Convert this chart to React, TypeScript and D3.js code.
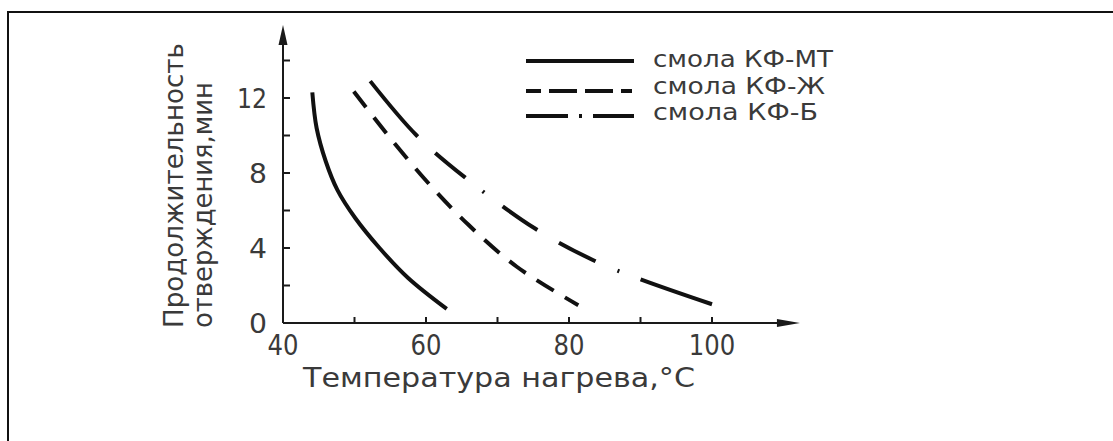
import React from 'react';
import {scaleLinear, line, curveCatmullRom} from 'd3';

// values
const tempMT = [44.1, 44.7, 46.0, 47.6, 50.1, 53.5, 57.5, 62.9];
const timeMT = [12.3, 10.4, 8.6, 7.1, 5.6, 4.0, 2.4, 0.75];

const tempZh = [49.9, 54.4, 60.0, 65.9, 72.7, 81.3];
const timeZh = [12.35, 10.15, 7.6, 5.25, 3.0, 0.95];

const tempB = [52.2, 58.7, 65.5, 75.2, 83.4, 89.5, 100.0];
const timeB = [12.9, 10.0, 7.75, 5.05, 3.35, 2.4, 1.0];

const seriesNames = ['смола КФ-МТ', 'смола КФ-Ж', 'смола КФ-Б'];

const xTicks = [40, 50, 60, 70, 80, 90, 100];
const xTickLabels = ['40', '60', '80', '100'];
const yTicks = [0, 2, 4, 6, 8, 10, 12, 14];
const yTickLabels = ['0', '4', '8', '12'];

const xAxisEnd = 112.3;
const yAxisEnd = 15.9;

const xTitle = 'Температура нагрева,°С';
const yTitle = ['Продолжительность', 'отверждения,мин'];

const W = 1113;
const H = 441;

const textStyle = {
	fontFamily: 'DejaVu Sans',
	fill: '#3a3a3a',
};

const scaleX = scaleLinear().domain([40, 100]).range([283, 712]);
const scaleY = scaleLinear().domain([0, 12]).range([323, 98]);

const lineGenerator = line<[number, number]>()
	.x(d => scaleX(d[0]))
	.y(d => scaleY(d[1]))
	.curve(curveCatmullRom.alpha(0.5));

const zip = (a: number[], b: number[]) => a.map((v, i) => [v, b[i]] as [number, number]);

const series = [
	{name: seriesNames[0], pts: zip(tempMT, timeMT), dash: 'none', legendDash: 'none'},
	{name: seriesNames[1], pts: zip(tempZh, timeZh), dash: '20,13', legendDash: '15,8,28,8,28,8,11'},
	{name: seriesNames[2], pts: zip(tempB, timeB), dash: '73,24,39,22,2,23,42,25,41,24,2,23,120', legendDash: '42,11,3,11,42'},
];

const legendWidths = [180, 172, 165];

export default function App() {
	const x0 = scaleX(40);
	const y0 = scaleY(0);
	const xEnd = scaleX(xAxisEnd);
	const yEnd = scaleY(yAxisEnd);

	return (
		<svg
			width={W}
			height={H}
			style={{position: 'absolute', left: 0, top: 0, background: '#fff'}}
		>
			{/* frame, cut off at right and bottom */}
			<rect x={8} y={12} width={1200} height={500} fill='none' stroke='#111' strokeWidth={2} />

			{/* axes */}
			<g stroke='#1a1a1a' strokeWidth={2} fill='none'>
				<line x1={x0} y1={y0} x2={xEnd - 10} y2={y0} />
				<line x1={x0} y1={y0} x2={x0} y2={yEnd + 10} />
				{xTicks.map(t => (
					<line key={'xt' + t} x1={scaleX(t)} x2={scaleX(t)} y1={y0} y2={y0 - 6} />
				))}
				{yTicks.map(t => (
					<line key={'yt' + t} x1={x0} x2={x0 + 7} y1={scaleY(t)} y2={scaleY(t)} />
				))}
			</g>
			<polygon
				points={`${xEnd},${y0} ${xEnd - 23},${y0 - 4} ${xEnd - 23},${y0 + 4}`}
				fill='#1a1a1a'
			/>
			<polygon
				points={`${x0},${yEnd} ${x0 - 4.5},${yEnd + 20} ${x0 + 4.5},${yEnd + 20}`}
				fill='#1a1a1a'
			/>

			{/* tick labels */}
			{xTickLabels.map(l => (
				<text
					key={'xl' + l}
					x={scaleX(+l)}
					y={y0 + 32}
					textAnchor='middle'
					fontSize={29}
					textLength={l.length * 15.5}
					lengthAdjust='spacingAndGlyphs'
					style={textStyle}
				>{l}</text>
			))}
			{yTickLabels.map(l => (
				<text
					key={'yl' + l}
					x={x0 - 16}
					y={scaleY(+l) + 10}
					textAnchor='end'
					fontSize={27}
					textLength={l.length === 1 ? 18 : 30}
					lengthAdjust='spacingAndGlyphs'
					style={textStyle}
				>{l}</text>
			))}

			{/* axis titles */}
			<text
				x={499}
				y={387}
				textAnchor='middle'
				fontSize={26}
				textLength={392}
				lengthAdjust='spacingAndGlyphs'
				style={textStyle}
			>{xTitle}</text>
			<text
				transform='translate(183,328) rotate(-90)'
				fontSize={27}
				textLength={285}
				lengthAdjust='spacingAndGlyphs'
				style={textStyle}
			>{yTitle[0]}</text>
			<text
				transform='translate(212,328) rotate(-90)'
				fontSize={27}
				textLength={246}
				lengthAdjust='spacingAndGlyphs'
				style={textStyle}
			>{yTitle[1]}</text>

			{/* curves */}
			{series.map(s => (
				<path
					key={s.name}
					d={lineGenerator(s.pts) || ''}
					fill='none'
					stroke='#111'
					strokeWidth={4}
					strokeDasharray={s.dash}
				/>
			))}

			{/* legend */}
			{series.map((s, i) => {
				const ly = [61, 91, 116][i];
				const ty = [67, 94, 120][i];
				return (
					<g key={'lg' + i}>
						<line x1={526} x2={634} y1={ly} y2={ly} stroke='#111' strokeWidth={4} strokeDasharray={s.legendDash} />
						<text
							x={653}
							y={ty}
							fontSize={23}
							textLength={legendWidths[i]}
							lengthAdjust='spacingAndGlyphs'
							style={textStyle}
						>{s.name}</text>
					</g>
				);
			})}
		</svg>
	);
}
